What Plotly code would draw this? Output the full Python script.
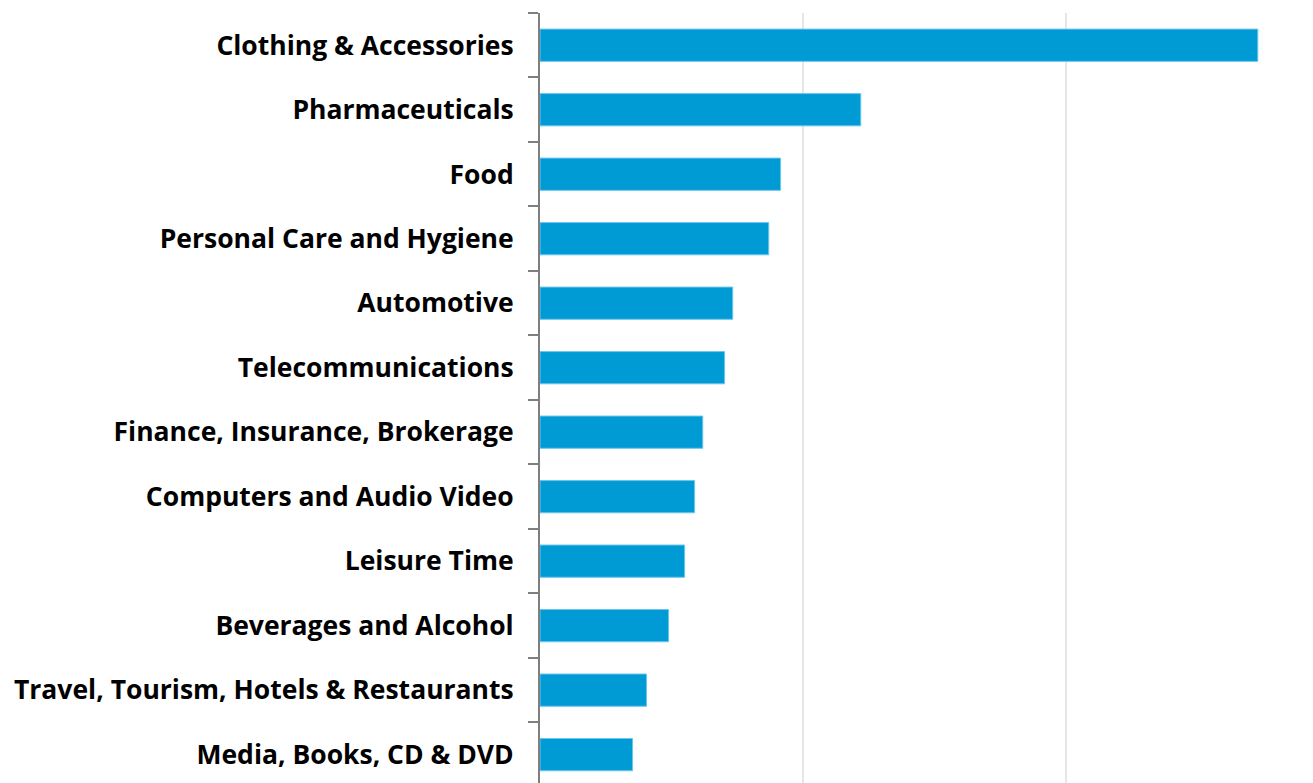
import plotly.graph_objects as go

# Share by sector (%), listed top to bottom
sectors = [
    "Clothing & Accessories",
    "Pharmaceuticals",
    "Food",
    "Personal Care and Hygiene",
    "Automotive",
    "Telecommunications",
    "Finance, Insurance, Brokerage",
    "Computers and Audio Video",
    "Leisure Time",
    "Beverages and Alcohol",
    "Travel, Tourism, Hotels & Restaurants",
    "Media, Books, CD & DVD",
]
shares = [27.3, 12.2, 9.15, 8.7, 7.33, 7.02, 6.19, 5.88, 5.5, 4.89, 4.05, 3.52]

fig = go.Figure(
    go.Bar(
        x=shares,
        y=sectors,
        orientation="h",
        marker=dict(color="#009AD4", line=dict(color="#6CC6EC", width=1)),
        hoverinfo="x+y",
    )
)

fig.update_layout(
    width=1313,
    height=783,
    margin=dict(l=540, r=0, t=13, b=0),
    paper_bgcolor="white",
    plot_bgcolor="white",
    bargap=0.5,
    showlegend=False,
    font=dict(family="Open Sans", color="black"),
)

fig.update_xaxes(
    range=[0, 29.4],
    dtick=10,
    showticklabels=False,
    showgrid=True,
    gridcolor="#E6E6E6",
    gridwidth=1.5,
    zeroline=False,
    showline=False,
    ticks="",
)

fig.update_yaxes(
    type="category",
    categoryorder="array",
    categoryarray=sectors,
    range=[11.44, -0.5],
    showline=True,
    linecolor="#7F7F7F",
    linewidth=2,
    ticks="outside",
    tickson="boundaries",
    ticklen=10,
    tickwidth=1.5,
    tickcolor="#7F7F7F",
    showgrid=False,
    tickfont=dict(family="Open Sans", size=26.5, color="black", weight="bold"),
    automargin=False,
    ticklabelstandoff=19,
)

fig.write_html("out.html")
